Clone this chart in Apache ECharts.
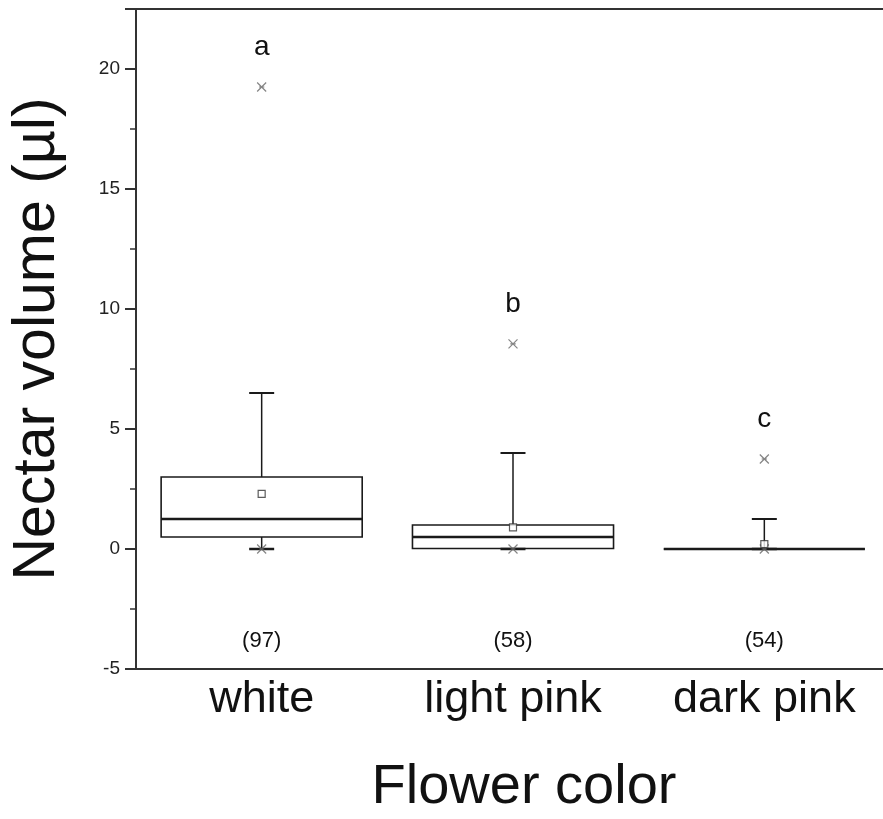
<!DOCTYPE html>
<html>
<head>
<meta charset="utf-8">
<script src="https://cdn.jsdelivr.net/npm/echarts@6/dist/echarts.min.js"></script>
<style>
  html, body { margin: 0; padding: 0; background: #fff; }
  #chart { width: 883px; height: 819px; }
</style>
</head>
<body>
<div id="chart"></div>
<script>
// ---- data ----
const categories   = ['white', 'light pink', 'dark pink'];
const lowerWhisker = [0, 0, 0];
const q1Values     = [0.5, 0.02, 0];
const medianValues = [1.25, 0.5, 0];
const q3Values     = [3.0, 1.0, 0];
const upperWhisker = [6.5, 4.0, 1.25];
const meanValues   = [2.3, 0.9, 0.2];
const maxValues    = [19.25, 8.55, 3.75];
const minValues    = [0, 0, 0];
const sampleSizes  = ['(97)', '(58)', '(54)'];
const groupLetters = ['a', 'b', 'c'];
const yTicks = { min: -5, max: 22.5, interval: 5 };

const FONT = '"Liberation Sans", Arial, sans-serif';

const boxData = categories.map((c, i) =>
  [i, lowerWhisker[i], q1Values[i], medianValues[i], q3Values[i], upperWhisker[i]]);

const chart = echarts.init(document.getElementById('chart'), null, { renderer: 'canvas' });

function boxRender(params, api) {
  const i = api.value(0);
  const band = api.size([1, 0])[0];
  const halfW = band * 0.4;
  const capHalf = 12.5;
  const pLW = api.coord([i, api.value(1)]);
  const pQ1 = api.coord([i, api.value(2)]);
  const pMed = api.coord([i, api.value(3)]);
  const pQ3 = api.coord([i, api.value(4)]);
  const pUW = api.coord([i, api.value(5)]);
  const x = pQ1[0];
  const stroke = '#1a1a1a';
  const children = [
    { type: 'line', shape: { x1: x, y1: pQ3[1], x2: x, y2: pUW[1] }, style: { stroke, lineWidth: 1.5 } },
    { type: 'line', shape: { x1: x - capHalf, y1: pUW[1], x2: x + capHalf, y2: pUW[1] }, style: { stroke, lineWidth: 2 } },
    { type: 'line', shape: { x1: x, y1: pQ1[1], x2: x, y2: pLW[1] }, style: { stroke, lineWidth: 1.5 } },
    { type: 'line', shape: { x1: x - capHalf, y1: pLW[1], x2: x + capHalf, y2: pLW[1] }, style: { stroke, lineWidth: 2.5 } },
    { type: 'rect', shape: { x: x - halfW, y: pQ3[1], width: halfW * 2, height: pQ1[1] - pQ3[1] },
      style: { fill: 'none', stroke, lineWidth: 1.6 } },
    { type: 'line', shape: { x1: x - halfW, y1: pMed[1], x2: x + halfW, y2: pMed[1] }, style: { stroke, lineWidth: 2.4 } }
  ];
  return { type: 'group', children };
}

function letterRender(params, api) {
  const i = api.value(0);
  const p = api.coord([i, api.value(1)]);
  return {
    type: 'text',
    style: {
      x: p[0], y: p[1] - 26, text: groupLetters[params.dataIndex],
      textAlign: 'center', textVerticalAlign: 'bottom',
      font: '28px ' + FONT, fill: '#111'
    }
  };
}

function nRender(params, api) {
  const i = api.value(0);
  const p = api.coord([i, yTicks.min]);
  return {
    type: 'text',
    style: {
      x: p[0], y: p[1] - 28, text: sampleSizes[params.dataIndex],
      textAlign: 'center', textVerticalAlign: 'middle',
      font: '22px ' + FONT, fill: '#111'
    }
  };
}

const option = {
  backgroundColor: '#fff',
  animation: false,
  grid: {
    left: 136, top: 9, width: 754, bottom: 150,
    outerBoundsMode: 'none',
    containLabel: false,
    show: true, borderColor: '#333', borderWidth: 2, backgroundColor: 'transparent'
  },
  xAxis: {
    type: 'category',
    data: categories,
    boundaryGap: true,
    name: 'Flower color',
    nameLocation: 'middle',
    nameGap: 91,
    nameTextStyle: { fontFamily: FONT, fontSize: 56, color: '#111', padding: [0, 0, 0, 22] },
    axisLine: { show: true, onZero: false, lineStyle: { color: '#333', width: 2 } },
    axisTick: { show: false },
    axisLabel: { fontFamily: FONT, fontSize: 45, color: '#111', margin: 8 },
    splitLine: { show: false }
  },
  yAxis: {
    type: 'value',
    min: yTicks.min, max: yTicks.max, interval: yTicks.interval,
    name: 'Nectar volume (\u00b5l)',
    nameLocation: 'middle',
    nameGap: 69,
    nameTextStyle: { fontFamily: FONT, fontSize: 59, color: '#111' },
    axisLine: { show: true, lineStyle: { color: '#333', width: 2 } },
    axisTick: { show: true, length: 11, lineStyle: { color: '#333', width: 2 } },
    minorTick: { show: true, splitNumber: 2, length: 6, lineStyle: { color: '#333', width: 1.5 } },
    axisLabel: { fontFamily: FONT, fontSize: 19, color: '#222', margin: 16, showMaxLabel: false },
    splitLine: { show: false },
    minorSplitLine: { show: false }
  },
  series: [
    {
      type: 'custom',
      renderItem: boxRender,
      data: boxData,
      encode: { x: 0, y: [1, 2, 3, 4, 5] },
      z: 3
    },
    {
      type: 'scatter',
      data: meanValues.map((v, i) => [i, v]),
      symbol: 'rect',
      symbolSize: 7,
      itemStyle: { color: '#fff', borderColor: '#333', borderWidth: 1.2 },
      z: 5
    },
    {
      type: 'scatter',
      data: maxValues.map((v, i) => [i, v]).concat(minValues.map((v, i) => [i, v])),
      symbol: 'path://M0,0L10,10M10,0L0,10M2,5L8,5',
      symbolSize: 9,
      itemStyle: { color: 'none', borderColor: '#666', borderWidth: 1.2 },
      z: 4
    },
    {
      type: 'custom',
      renderItem: letterRender,
      data: maxValues.map((v, i) => [i, v]),
      z: 6
    },
    {
      type: 'custom',
      renderItem: nRender,
      data: sampleSizes.map((s, i) => [i, yTicks.min]),
      z: 6
    }
  ]
};

chart.setOption(option);
</script>
</body>
</html>
